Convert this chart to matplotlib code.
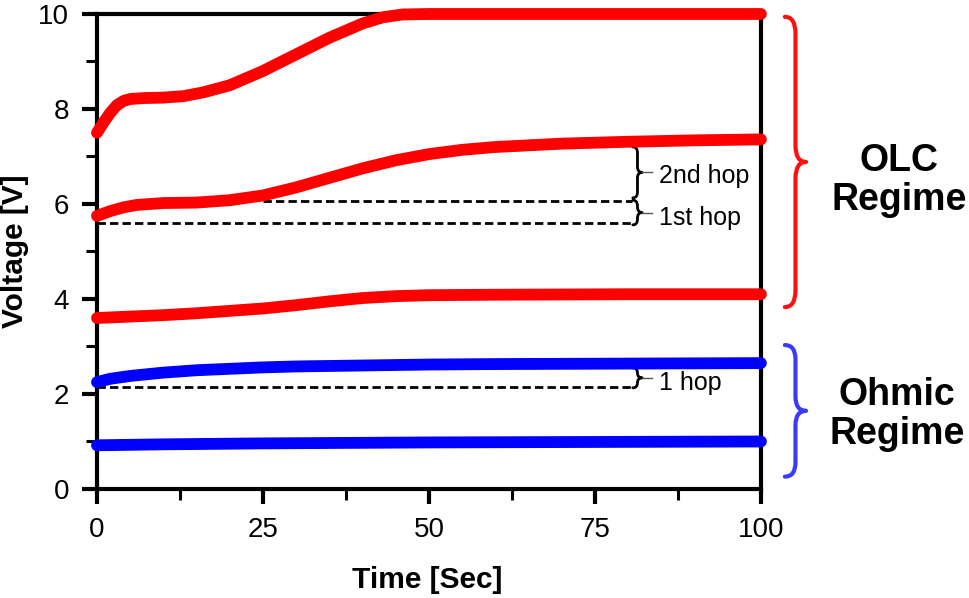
import numpy as np
import matplotlib.pyplot as plt
from matplotlib.path import Path
from matplotlib.patches import PathPatch

plt.rcParams['font.family'] = ['Liberation Sans', 'DejaVu Sans']

# Voltage vs time
t_top = [0, 1, 2, 3, 4, 5, 7, 10, 13, 16, 20, 25, 30, 35, 40, 43, 46, 50, 60, 70, 80, 90, 100]
v_top = [7.5, 7.72, 7.92, 8.08, 8.17, 8.21, 8.23, 8.24, 8.27, 8.35, 8.5, 8.8, 9.15, 9.5,
         9.8, 9.93, 9.99, 10.0, 10.0, 10.0, 10.0, 10.0, 10.0]

t_mid = [0, 2, 4, 6, 8, 10, 15, 20, 25, 30, 35, 40, 45, 50, 55, 60, 70, 80, 90, 100]
v_mid = [5.75, 5.85, 5.93, 5.98, 6.0, 6.02, 6.03, 6.08, 6.18, 6.35, 6.55, 6.75, 6.92,
         7.05, 7.14, 7.2, 7.27, 7.31, 7.34, 7.36]

t_low = [0, 5, 10, 15, 20, 25, 30, 35, 40, 45, 50, 60, 80, 100]
v_low = [3.6, 3.63, 3.66, 3.7, 3.75, 3.8, 3.87, 3.95, 4.02, 4.06, 4.08, 4.09, 4.1, 4.1]

t_ohm1 = [0, 2, 5, 10, 15, 20, 25, 30, 40, 50, 60, 80, 100]
v_ohm1 = [2.25, 2.32, 2.38, 2.45, 2.5, 2.53, 2.56, 2.58, 2.6, 2.62, 2.63, 2.64, 2.65]

t_ohm2 = [0, 10, 25, 50, 75, 100]
v_ohm2 = [0.92, 0.94, 0.96, 0.98, 0.99, 1.0]

# hop reference levels (dashed lines) and brace spans
hop_levels = [5.6, 6.06, 2.15]
hop_starts = [0, 25, 0]
hop_end = 80.6
hop_spans = [(6.13, 7.2), (5.56, 6.08), (2.13, 2.55)]
hop_labels = ['2nd hop', '1st hop', '1 hop']
hop_label_y = [6.44, 5.56, 2.08]

RED = '#ff0000'
BLUE = '#0000ff'


def brace(ax, x0, w, y0, y1, r, color, lw):
    xm = x0 + w / 2
    ym = (y0 + y1) / 2
    verts = [(x0, y1), (xm, y1), (xm, y1 - r), (xm, ym + r),
             (xm, ym), (x0 + w, ym), (xm, ym), (xm, ym - r),
             (xm, y0 + r), (xm, y0), (x0, y0)]
    codes = [Path.MOVETO, Path.CURVE3, Path.CURVE3, Path.LINETO,
             Path.CURVE3, Path.CURVE3, Path.CURVE3, Path.CURVE3,
             Path.LINETO, Path.CURVE3, Path.CURVE3]
    p = PathPatch(Path(verts, codes), fill=False, edgecolor=color, lw=lw,
                  clip_on=False, capstyle='round', joinstyle='round')
    ax.add_patch(p)


fig = plt.figure(figsize=(9.69, 5.98), dpi=100)
ax = fig.add_axes([0.1001, 0.1823, 0.6852, 0.7943])

line_kw = dict(lw=8.5, solid_capstyle='round', solid_joinstyle='round',
               clip_on=False, zorder=4)
ax.plot(t_top, v_top, color=RED, **line_kw)
ax.plot(t_mid, v_mid, color=RED, **line_kw)
ax.plot(t_low, v_low, color=RED, **line_kw)
ax.plot(t_ohm1, v_ohm1, color=BLUE, **line_kw)
ax.plot(t_ohm2, v_ohm2, color=BLUE, **line_kw)

# dashed hop lines, small braces and labels
for lvl, x_start in zip(hop_levels, hop_starts):
    ax.plot([x_start, hop_end], [lvl, lvl], color='black', lw=2,
            dashes=(3, 1.5), zorder=3)
for (y0, y1), lab, ly in zip(hop_spans, hop_labels, hop_label_y):
    brace(ax, 80.7, 1.4, y0, y1, min(0.12, (y1 - y0) / 4), 'black', 2)
    ax.plot([82.1, 83.6], [(y0 + y1) / 2] * 2, color='#555555', lw=1)
    ax.text(84.7, ly, lab, fontsize=18, ha='left', va='baseline')

# regime braces
brace(ax, 103.6, 3.2, 3.83, 9.94, 0.35, '#ff1010', 3)
brace(ax, 103.6, 3.2, 0.26, 3.03, 0.3, '#3a3aff', 3)
ax.text(120.8, 6.5, 'OLC\nRegime', fontsize=27, fontweight='bold',
        ha='center', va='center', linespacing=1.1)
ax.text(120.5, 1.56, 'Ohmic\nRegime', fontsize=27, fontweight='bold',
        ha='center', va='center', linespacing=1.1)

ax.set_xlim(0, 100)
ax.set_ylim(0, 10)
ax.set_xticks([0, 25, 50, 75, 100])
ax.set_xticks([12.5, 37.5, 62.5, 87.5], minor=True)
ax.set_yticks([0, 2, 4, 6, 8, 10])
ax.set_yticks([1, 3, 5, 7, 9], minor=True)
ax.tick_params(which='major', direction='out', length=11, width=3, labelsize=20, pad=9)
ax.tick_params(which='minor', direction='out', length=8, width=2.2)
for s in ax.spines.values():
    s.set_linewidth(3)

ax.set_xlabel('Time [Sec]', fontsize=21.5, fontweight='bold')
ax.set_ylabel('Voltage [V]', fontsize=21.5, fontweight='bold')
ax.xaxis.set_label_coords(0.498, -0.162)
ax.yaxis.set_label_coords(-0.103, 0.5)

fig.savefig('out.png', dpi=100)
